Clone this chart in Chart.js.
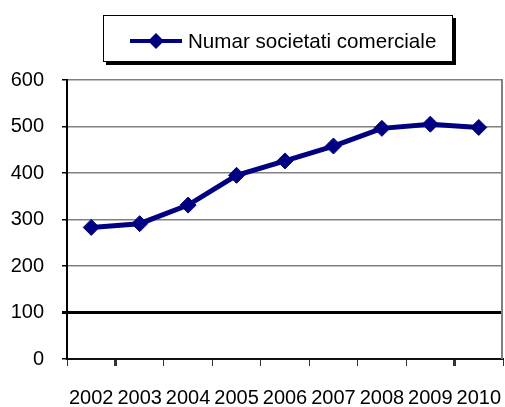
<!DOCTYPE html>
<html>
<head>
<meta charset="utf-8">
<script src="https://cdn.jsdelivr.net/npm/chart.js@4/dist/chart.umd.min.js"></script>
<style>
  html, body { margin: 0; padding: 0; background: #fff; }
  canvas { display: block; }
</style>
</head>
<body>
<canvas id="societatiChart" width="505" height="407"></canvas>
<script>
const years = ['2002', '2003', '2004', '2005', '2006', '2007', '2008', '2009', '2010'];
const societati = [283, 291, 331, 395, 426, 458, 496, 505, 498];
const yTicks = [0, 100, 200, 300, 400, 500, 600];
const seriesName = 'Numar societati comerciale';

const FONT = '"Liberation Sans", Arial, sans-serif';
const NAVY = '#000080';

// legend box drawn by hand: line + diamond inside a framed box with a shadow
const boxLegend = {
  id: 'boxLegend',
  afterDraw(chart) {
    const c = chart.ctx;
    c.save();
    c.fillStyle = '#000';
    c.fillRect(106, 18, 350, 47);
    c.fillStyle = '#fff';
    c.fillRect(103, 15, 350, 47);
    c.strokeStyle = '#000';
    c.lineWidth = 1;
    c.strokeRect(103.5, 15.5, 349, 46);

    c.strokeStyle = NAVY;
    c.lineWidth = 4;
    c.beginPath();
    c.moveTo(130, 41);
    c.lineTo(182, 41);
    c.stroke();
    c.fillStyle = NAVY;
    c.beginPath();
    c.moveTo(156, 33);
    c.lineTo(164, 41);
    c.lineTo(156, 49);
    c.lineTo(148, 41);
    c.closePath();
    c.fill();

    c.fillStyle = '#000';
    c.font = '20.6px ' + FONT;
    c.textBaseline = 'alphabetic';
    c.fillText(seriesName, 188, 48);
    c.restore();
  }
};

// grey right border of the plot area
const plotFrame = {
  id: 'plotFrame',
  beforeDatasetsDraw(chart) {
    const a = chart.chartArea;
    const c = chart.ctx;
    c.save();
    c.strokeStyle = '#808080';
    c.lineWidth = 2;
    c.beginPath();
    c.moveTo(a.right - 1, a.top);
    c.lineTo(a.right - 1, a.bottom);
    c.stroke();
    c.restore();
  }
};

const ctx = document.getElementById('societatiChart').getContext('2d');
const societatiChart = new Chart(ctx, {
  type: 'line',
  data: {
    labels: years,
    datasets: [{
      label: seriesName,
      data: societati,
      borderColor: NAVY,
      backgroundColor: NAVY,
      borderWidth: 5,
      pointStyle: 'rectRot',
      pointRadius: 8,
      pointBorderWidth: 1,
      pointBackgroundColor: NAVY,
      pointBorderColor: NAVY,
      tension: 0,
      fill: false
    }]
  },
  options: {
    responsive: false,
    animation: false,
    layout: { autoPadding: false, padding: { top: 80, right: 2, left: 0, bottom: 0 } },
    plugins: {
      legend: { display: false },
      tooltip: { enabled: false }
    },
    scales: {
      x: {
        offset: true,
        afterFit: (scale) => {
          scale.height = 48;
          scale.paddingLeft = 0;
          scale.paddingRight = 0;
        },
        grid: {
          offset: true,
          drawOnChartArea: false,
          drawTicks: true,
          tickLength: 7,
          tickColor: '#333',
          lineWidth: (c) => (c.index === 1 || c.index === 8) ? 3 : 1
        },
        border: { color: '#111', width: 2 },
        ticks: {
          autoSkip: false,
          maxRotation: 0,
          minRotation: 0,
          padding: 20,
          color: '#000',
          font: { family: FONT, size: 20 }
        }
      },
      y: {
        min: yTicks[0],
        max: yTicks[yTicks.length - 1],
        afterFit: (scale) => { scale.width = 67; },
        afterBuildTicks: (scale) => { scale.ticks = yTicks.map(v => ({ value: v })); },
        grid: {
          color: (c) => c.tick && c.tick.value === 100 ? '#000' : '#808080',
          lineWidth: (c) => c.tick && c.tick.value === 100 ? 3 : 1.5,
          tickLength: 5,
          tickColor: '#000'
        },
        border: { color: '#000', width: 2 },
        ticks: {
          padding: 18,
          color: '#000',
          font: { family: FONT, size: 20 }
        }
      }
    }
  },
  plugins: [plotFrame, boxLegend]
});
</script>
</body>
</html>
